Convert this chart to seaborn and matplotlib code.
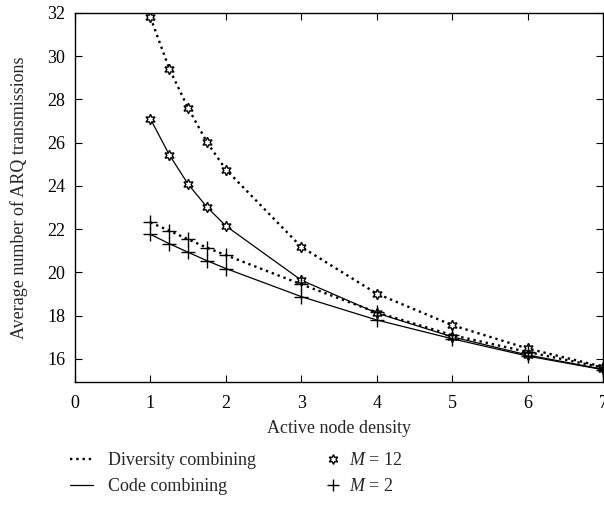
import numpy as np
import pandas as pd
import matplotlib
matplotlib.use("Agg")
import matplotlib.pyplot as plt
from matplotlib.lines import Line2D
import seaborn as sns

# ---- data ----
density = [1, 1.25, 1.5, 1.75, 2, 3, 4, 5, 6, 7]
div_m12 = [31.8, 29.42, 27.6, 26.02, 24.76, 21.18, 19.02, 17.56, 16.48, 15.63]
code_m12 = [27.1, 25.44, 24.08, 23.02, 22.15, 19.64, 18.12, 17.02, 16.18, 15.52]
div_m2 = [22.31, 21.93, 21.53, 21.14, 20.8, 19.45, 18.15, 17.1, 16.32, 15.6]
code_m2 = [21.76, 21.33, 20.93, 20.54, 20.18, 18.88, 17.8, 16.93, 16.13, 15.5]

xticks = [0, 1, 2, 3, 4, 5, 6, 7]
yticks = [16, 18, 20, 22, 24, 26, 28, 30, 32]

sns.set_theme(style="ticks")
plt.rcParams["font.family"] = ["Liberation Serif", "DejaVu Serif"]
plt.rcParams["mathtext.fontset"] = "custom"
plt.rcParams["mathtext.it"] = "Liberation Serif:italic"
plt.rcParams["mathtext.rm"] = "Liberation Serif"

FS = 13

fig = plt.figure(figsize=(6.04, 5.12), dpi=100)
ax = fig.add_axes([75 / 604, 1 - 382 / 512, 528 / 604, 369 / 512])

hexstar = (6, 1, 0)

series = [
    (div_m12, ":", hexstar, 1.7),
    (code_m12, "-", hexstar, 0.9),
    (div_m2, ":", "+", 1.7),
    (code_m2, "-", "+", 0.9),
]
for vals, ls, mk, lw in series:
    df = pd.DataFrame({"x": density, "y": vals})
    sns.lineplot(data=df, x="x", y="y", ax=ax, color="black", linestyle=ls,
                 linewidth=lw, marker=mk, markersize=10 if mk == "+" else 7.5,
                 markerfacecolor="white", markeredgecolor="black",
                 markeredgewidth=1.0, legend=False)

ax.set_xlim(0, 7)
ax.set_ylim(14.93, 32)
ax.set_xticks(xticks)
ax.set_yticks(yticks)
ax.tick_params(direction="in", top=True, right=True, length=5, width=0.8,
               labelsize=FS, colors="black")
ax.tick_params(axis="x", pad=9)
ax.tick_params(axis="y", pad=7)
for s in ax.spines.values():
    s.set_color("black")
    s.set_linewidth(1.0)
ax.set_xlabel("Active node density", fontsize=FS, labelpad=6)
ax.set_ylabel("Average number of ARQ transmissions", fontsize=FS, labelpad=14)

h1 = [Line2D([], [], color="black", linestyle=":", linewidth=1.7),
      Line2D([], [], color="black", linestyle="-", linewidth=0.9)]
leg1 = fig.legend(h1, ["Diversity combining", "Code combining"],
                  loc="upper left", bbox_to_anchor=(70 / 604, 1 - 452 / 512),
                  frameon=False, fontsize=FS, handlelength=1.3,
                  handletextpad=0.8, labelspacing=0.5, borderpad=0,
                  borderaxespad=0)
h2 = [Line2D([], [], color="black", linestyle="none", marker=hexstar,
             markersize=7, markerfacecolor="white", markeredgewidth=1.0),
      Line2D([], [], color="black", linestyle="none", marker="+",
             markersize=8, markeredgewidth=1.0)]
leg2 = fig.legend(h2, ["$M$ = 12", "$M$ = 2"],
                  loc="upper left", bbox_to_anchor=(324 / 604, 1 - 452 / 512),
                  frameon=False, fontsize=FS, handlelength=1.0,
                  handletextpad=0.4, labelspacing=0.5, borderpad=0,
                  borderaxespad=0)

fig.savefig("out.png", dpi=100)
